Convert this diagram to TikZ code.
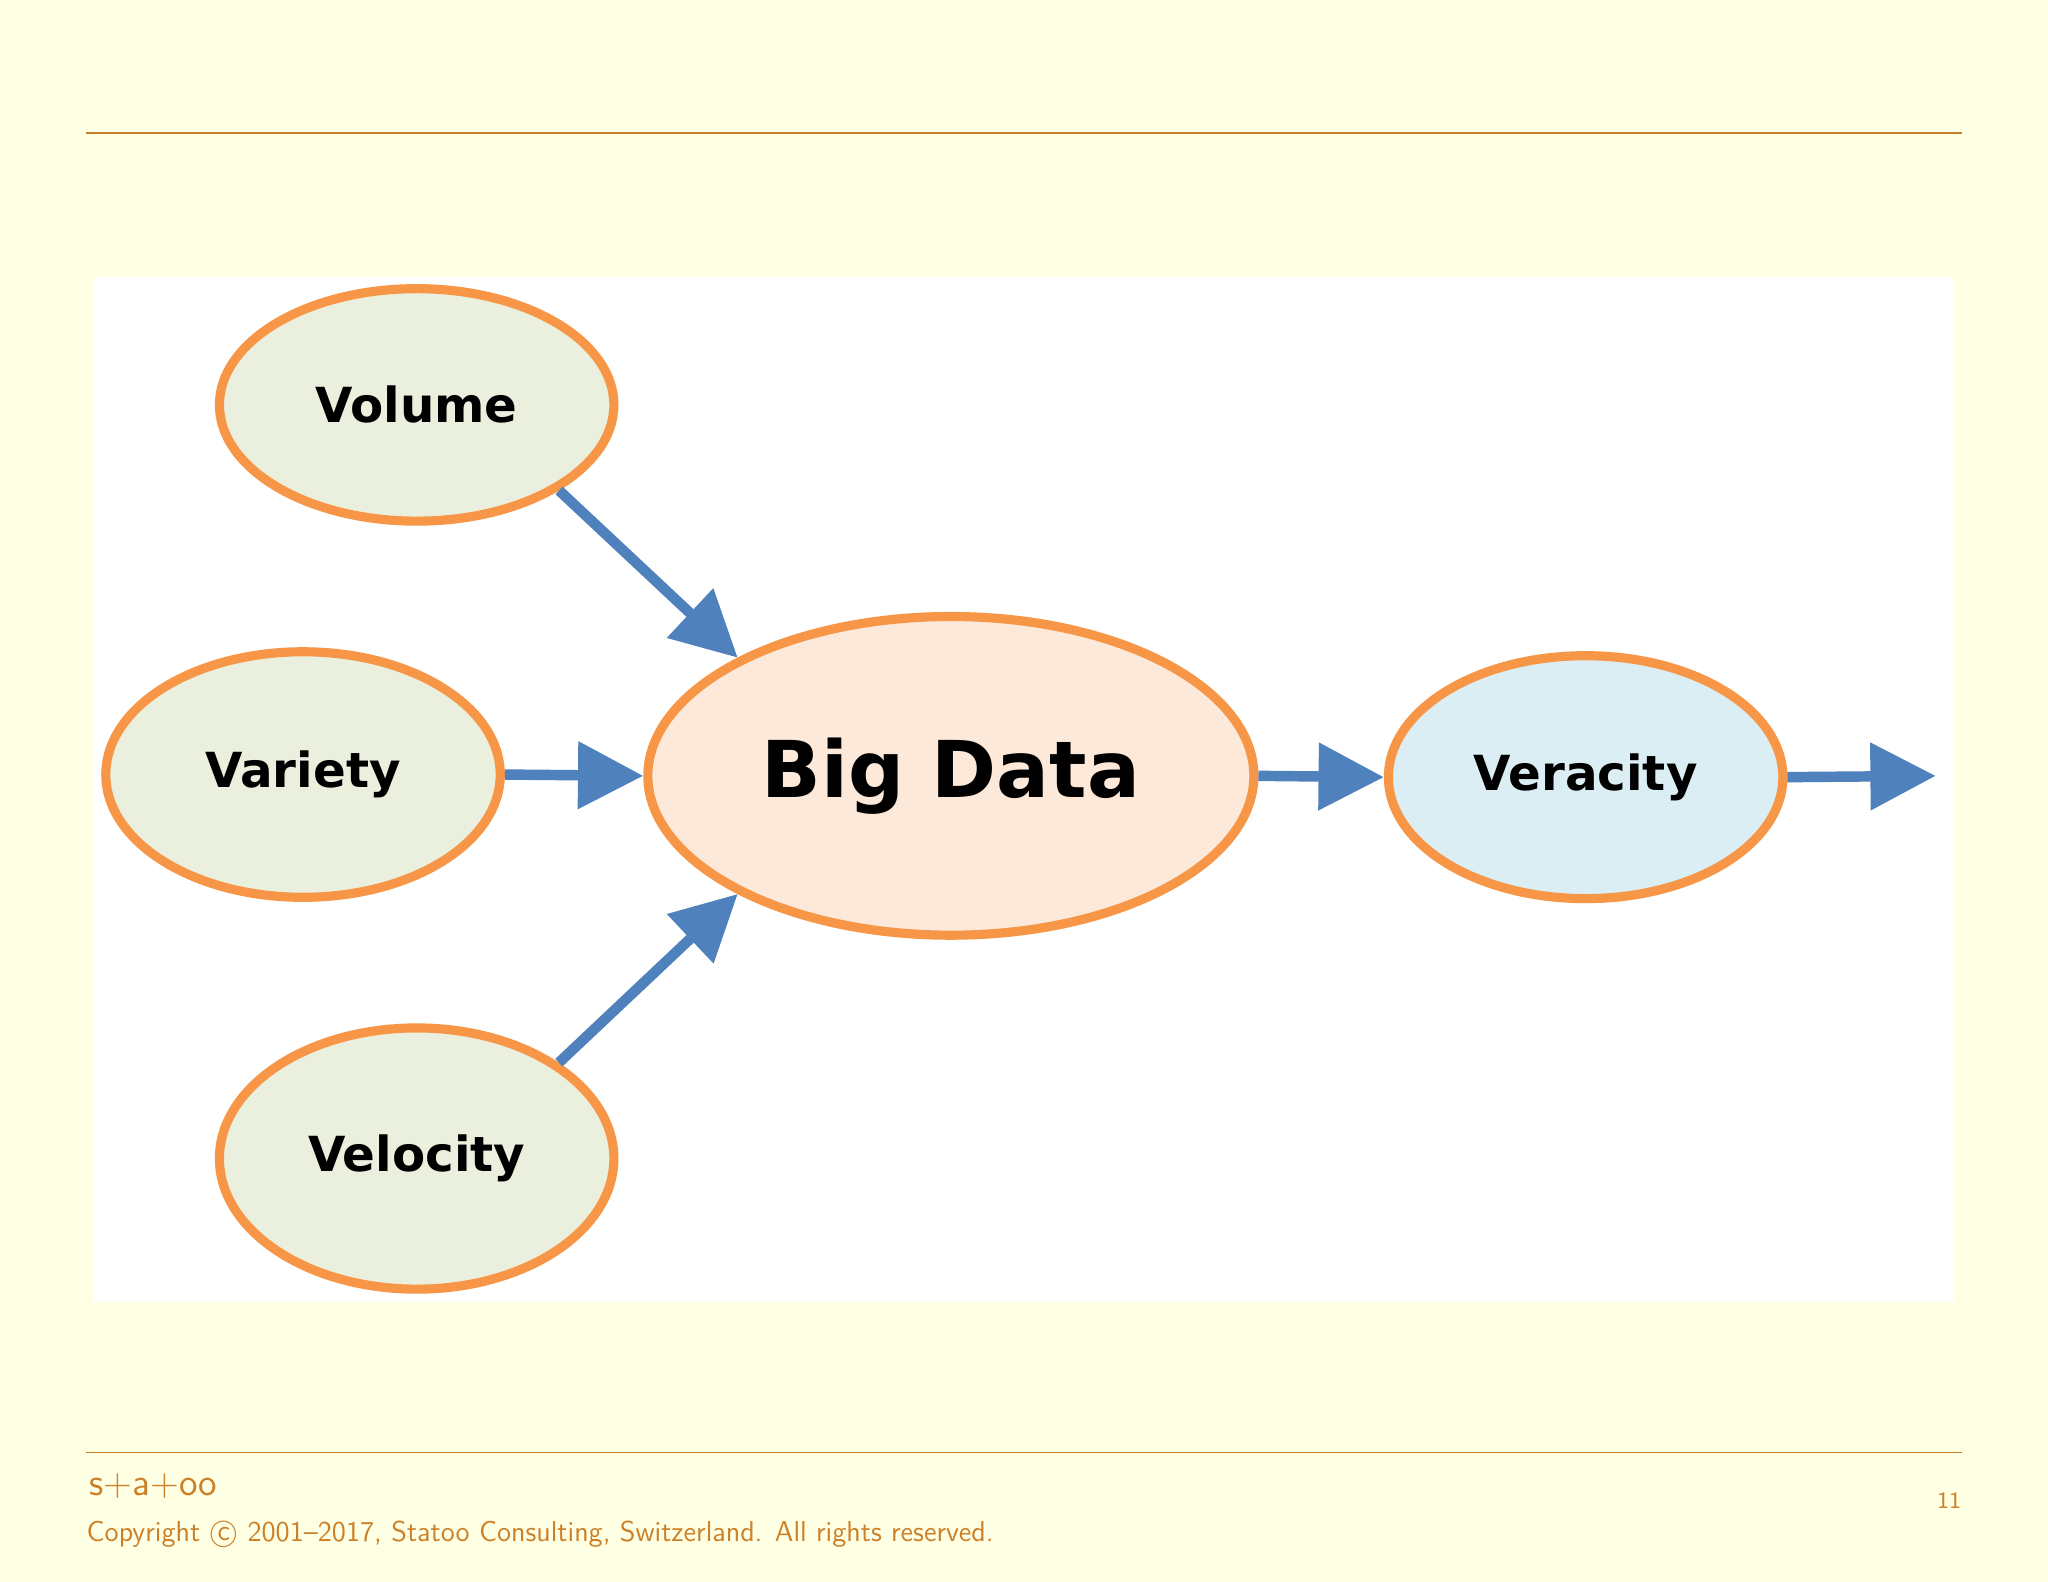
\documentclass[tikz,border=0pt]{standalone}
\usepackage{fontspec}
\usetikzlibrary{shapes.geometric,arrows.meta}
\newfontfamily\boldsans{DejaVu Sans}[BoldFont={DejaVu Sans Bold}]
\definecolor{bg}{RGB}{255,255,228}
\definecolor{rule}{RGB}{204,128,40}
\definecolor{ora}{RGB}{247,150,70}
\definecolor{grn}{RGB}{235,240,222}
\definecolor{pch}{RGB}{253,233,217}
\definecolor{lbl}{RGB}{219,238,244}
\definecolor{blu}{RGB}{79,129,189}
\begin{document}
\begin{tikzpicture}[x=0.5pt,y=-0.5pt,
  ell/.style={ellipse,draw=ora,line width=3.5pt,inner sep=0pt,font=\boldsans\bfseries\fontsize{18.5}{22}\selectfont},
  arr/.style={blu,line width=4pt,-{Triangle[length=25pt,width=25pt]}}]
\fill[bg] (0,0) rectangle (1568,1211);
\useasboundingbox (0,0) rectangle (1568,1211);
\draw[rule,line width=0.6pt] (66,102) -- (1502,102);
\draw[rule,line width=0.6pt] (66,1112) -- (1502,1112);
\fill[white] (72,212) rectangle (1496,997);
\node[ell,fill=grn,minimum width=151pt,minimum height=89pt] (vol) at (319,310) {\raisebox{-2pt}{Volume}};
\node[ell,fill=grn,minimum width=151pt,minimum height=94pt] (var) at (232,593) {\raisebox{-2.5pt}{Variety}};
\node[ell,fill=grn,minimum width=151pt,minimum height=100pt] (vel) at (319,887) {\raisebox{-2pt}{Velocity}};
\node[ell,fill=pch,minimum width=232pt,minimum height=122pt,font=\boldsans\bfseries\fontsize{30}{36}\selectfont] (big) at (728,594) {\raisebox{-3pt}{Big Data}};
\node[ell,fill=lbl,minimum width=151pt,minimum height=93pt] (ver) at (1214,595) {\raisebox{-2.5pt}{Veracity}};
\coordinate (out) at (1482,594);
\draw[arr] (vol.-31) -- (big.151);
\draw[arr] (var.east) -- (big.west);
\draw[arr] (vel.34) -- (big.-151);
\draw[arr] (big.east) -- (ver.west);
\draw[arr] (ver.east) -- (out);
\node[anchor=base west,inner sep=0pt,text=rule,font=\sffamily\fontsize{14.5}{16}\selectfont] (logo) at (68,1145) {s+a+oo};
\node[anchor=base west,inner sep=0pt,text=rule,font=\sffamily\fontsize{11}{12}\selectfont] (copy) at (66,1180) {Copyright \textcircled{c} 2001--2017, Statoo Consulting, Switzerland. All rights reserved.};
\node[anchor=base east,inner sep=0pt,text=rule,font=\sffamily\fontsize{9}{11}\selectfont] (pg) at (1502,1155) {11};
\end{tikzpicture}
\end{document}
